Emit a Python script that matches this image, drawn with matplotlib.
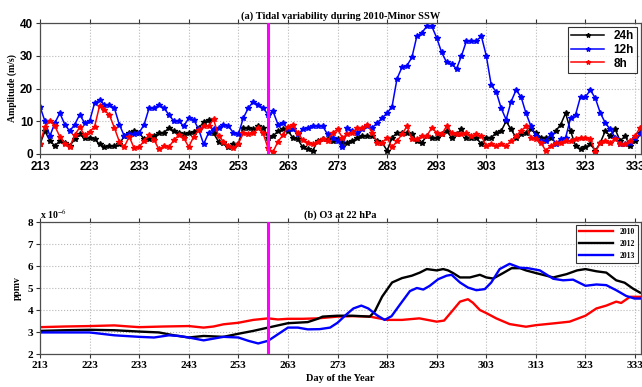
import numpy as np
import matplotlib
matplotlib.use('Agg')
import matplotlib.pyplot as plt

SANS = 'Liberation Sans'
SERIF = 'Liberation Serif'
plt.rcParams['mathtext.fontset'] = 'stix'

# daily tidal amplitudes (m/s), day 213..334
days = np.arange(213, 335)
amp24 = [3, 7, 4, 2.5, 4, 3.5, 2.5, 4.5, 6, 5,
         5, 4.5, 3, 2, 2.5, 2.5, 3, 5.5, 6.5, 7,
         6.5, 4.5, 4.5, 5.5, 6.5, 6.5, 8, 7, 6.5, 6,
         6.3, 6.8, 7.8, 9.8, 10.3, 6.3, 3.8, 3.5, 2.2, 3,
         3.2, 8, 8, 7.5, 8.5, 8, 5, 5.5, 7, 7.5,
         7, 5, 4.5, 2, 1.5, 1, 4, 4.5, 4.5, 4,
         4.5, 3.5, 3.5, 4, 5, 5.5, 5.5, 5.5, 4, 3.5,
         1, 5, 6.5, 6.5, 6.5, 6, 4, 3.5, 5.5, 5,
         5, 6, 7, 5, 6, 7.5, 5, 5, 5, 3,
         5, 5, 6.5, 7, 10, 7.5, 5, 6, 6.5, 7.5,
         6.5, 5, 5, 5, 7, 9, 12.5, 7, 2.5, 1.5,
         2, 3, 1, 3.5, 7, 5.5, 7.5, 4, 5.5, 2.5,
         4, 6.5]
amp12 = [14.5, 10, 5.5, 9.5, 12.5, 9, 7, 9, 12, 9.5,
         10, 15.5, 16.5, 15, 15, 14, 9, 5.5, 6, 6,
         6.5, 9, 14, 14, 15, 14, 12, 10, 10, 8.5,
         11, 10.5, 7.5, 3, 6.5, 7.5, 8, 9, 8.5, 6.5,
         6, 11, 14, 16, 15, 14, 12, 13, 9, 9.5,
         7.5, 7.5, 6, 7.5, 8, 8.5, 8.5, 8.5, 6, 5,
         4, 2, 8, 7, 6.5, 7.5, 8.5, 8, 9.5, 11,
         12.5, 14.5, 23, 26.5, 27, 29.5, 36, 37, 39, 39,
         35.5, 31, 28, 27.5, 26, 30, 34.5, 34.5, 34.5, 36,
         30, 21, 19, 14, 10.5, 16, 19.5, 17.5, 12.5, 8.5,
         5.5, 4, 4, 6, 3, 4.5, 5, 11, 12, 17.5,
         17.5, 19.5, 17, 12.5, 9.5, 7.5, 5, 3, 3, 3.5,
         5, 6]
amp8 = [3.2, 8.3, 10.2, 8.5, 5.3, 3.2, 2.2, 5.8, 8.1, 5.8,
        6.8, 8.3, 14.6, 13.4, 11.9, 8, 3.8, 2.2, 5.3, 1.7,
        2.2, 4, 5.8, 4.3, 1.4, 2.4, 2.2, 4.2, 5.8, 4.8,
        2.2, 5.3, 7.3, 8.5, 8.5, 10.6, 5.5, 3.8, 2.4, 1.7,
        3.2, 6.3, 6.1, 6.3, 7.8, 6.3, 1.7, 0.7, 3.8, 5.8,
        8.3, 8.8, 6.3, 4.3, 3.5, 3, 3.8, 4.5, 4, 6.5,
        7.5, 5, 6, 6.5, 8, 8, 9, 6.5, 3.5, 3.5,
        5, 2, 4, 6, 8.5, 4.5, 4.5, 5.5, 5.5, 8,
        6.5, 6, 8.5, 6.5, 6, 6, 6.5, 5.5, 6, 5.5,
        2.5, 3, 2.5, 3, 2.5, 4, 5.5, 7, 8.5, 5,
        4.5, 3.5, 1, 2.5, 3.5, 3.5, 4, 4, 4.5, 5,
        5, 4.5, 0.5, 3.5, 4, 3.5, 4.5, 3, 3, 4,
        5.5, 8]

# O3 mixing ratio at 22 hPa (x 1e-6 ppmv)
d2010 = [213, 218, 223, 228, 231, 233, 238, 243, 246, 248, 250, 253, 256, 259,
         261, 263, 266, 269, 273, 276, 279.5, 283, 286, 289.5, 293, 294.5, 296.3,
         297.7, 299.3, 300.3, 301.7, 303, 305, 307.7, 311, 313, 316.5, 319.8, 323,
         325.2, 327.2, 329.2, 330.2, 332, 334]
o3_2010 = [3.22, 3.25, 3.27, 3.3, 3.25, 3.22, 3.25, 3.27, 3.2, 3.25, 3.35, 3.42,
           3.55, 3.62, 3.57, 3.6, 3.6, 3.62, 3.7, 3.72, 3.7, 3.55, 3.55, 3.62, 3.47,
           3.52, 4.0, 4.38, 4.49, 4.33, 4.0, 3.86, 3.62, 3.36, 3.24, 3.31, 3.39, 3.47,
           3.74, 4.07, 4.2, 4.38, 4.32, 4.6, 4.6]
d2012 = [213, 218, 223, 228, 233, 237, 240, 243, 246, 250, 253, 256, 259, 263,
         267, 269, 270, 273, 276, 279.5, 280.5, 282, 284, 286, 288, 289.6, 291, 293,
         294.3, 295.3, 296.3, 297.7, 299.7, 301.7, 303, 304.4, 306.4, 308.1, 309.8,
         311, 313, 316.5, 319.2, 321.3, 323, 325.2, 327.2, 329.2, 330.9, 332.6, 334]
o3_2012 = [3.05, 3.08, 3.1, 3.08, 3.02, 2.98, 2.85, 2.75, 2.82, 2.78, 2.92, 3.05,
           3.2, 3.4, 3.45, 3.6, 3.7, 3.74, 3.74, 3.7, 3.93, 4.61, 5.25, 5.45, 5.56,
           5.7, 5.86, 5.8, 5.86, 5.8, 5.68, 5.48, 5.48, 5.6, 5.48, 5.43, 5.68, 5.9,
           5.9, 5.8, 5.68, 5.48, 5.63, 5.8, 5.86, 5.76, 5.7, 5.35, 5.24, 4.97, 4.79]
d2013 = [213, 218, 223, 228, 233, 236, 239, 241, 243, 246, 248, 250, 253, 255,
         257, 259, 261, 263, 265, 267, 269.4, 271.5, 273, 274.8, 276.2, 277.8, 279.2,
         280.9, 282.5, 283.9, 285.6, 287.6, 289, 290.3, 291.6, 293.3, 295, 296,
         297.7, 299.3, 301, 302.7, 304, 305.7, 307.7, 309.8, 311.4, 313.8, 316.5,
         318.5, 320.5, 323, 325.2, 327.2, 329.2, 331.2, 332.9, 334]
o3_2013 = [2.98, 2.98, 2.98, 2.85, 2.78, 2.75, 2.85, 2.82, 2.75, 2.62, 2.7, 2.78,
           2.75, 2.6, 2.48, 2.6, 2.9, 3.2, 3.2, 3.12, 3.13, 3.2, 3.42, 3.8, 4.07, 4.2,
           4.07, 3.77, 3.55, 3.72, 4.25, 4.86, 5.0, 4.93, 5.1, 5.4, 5.56, 5.6, 5.25,
           5.02, 4.9, 4.95, 5.25, 5.86, 6.1, 5.92, 5.9, 5.8, 5.42, 5.35, 5.38, 5.1,
           5.16, 5.13, 4.9, 4.64, 4.52, 4.52]

ssw_day = 259
xticks = np.arange(213, 334, 10)
xlim = (213, 334.2)


def style_axes(ax, tickfont):
    ax.set_xlim(*xlim)
    ax.set_xticks(xticks)
    ax.grid(True, linestyle=':', color='0.72', linewidth=0.8)
    ax.tick_params(direction='out', length=3, width=0.8, top=True, right=True,
                   colors='0.2', labelcolor='black', pad=2)
    for s in ax.spines.values():
        s.set_color('0.3')
        s.set_linewidth(0.9)
    for lab in ax.get_xticklabels() + ax.get_yticklabels():
        lab.set_fontproperties(tickfont)


fig = plt.figure(figsize=(6.42, 3.87), dpi=100)

# (a) tidal amplitudes
ax1 = fig.add_axes([40/642, 1-154/387, 601/642, 131/387])
ax1.plot(days, amp24, color='black', lw=1.1, marker='*', ms=4, label='24h')
ax1.plot(days, amp12, color='blue', lw=1.1, marker='*', ms=4, label='12h')
ax1.plot(days, amp8, color='red', lw=1.1, marker='*', ms=4, label='8h')
ax1.axvline(ssw_day, color='magenta', lw=2.2, zorder=5)
ax1.set_ylim(0, 40)
ax1.set_yticks([0, 10, 20, 30, 40])
style_axes(ax1, matplotlib.font_manager.FontProperties(family=SANS, weight='bold', size=8.5))
ax1.set_ylabel('Amplitude (m/s)', family=SERIF, weight='bold', fontsize=7, labelpad=2)
ax1.set_title('(a) Tidal variability during 2010-Minor SSW', family=SERIF,
              weight='bold', fontsize=7.5, pad=3)
leg = ax1.legend(loc='upper right', prop={'family': SANS, 'weight': 'bold', 'size': 8.5},
                 fancybox=False, edgecolor='black', borderaxespad=0.3,
                 handlelength=2.8, labelspacing=0.15, borderpad=0.3, markerscale=0.8)
leg.get_frame().set_linewidth(0.8)

# (b) ozone at 22 hPa
ax2 = fig.add_axes([40/642, 1-354/387, 601/642, 132/387])
ax2.plot(d2010, o3_2010, color='red', lw=1.7, label='2010')
ax2.plot(d2012, o3_2012, color='black', lw=1.7, label='2012')
ax2.plot(d2013, o3_2013, color='blue', lw=1.7, label='2013')
ax2.axvline(ssw_day, color='magenta', lw=2.2, zorder=5)
ax2.set_ylim(2, 8)
ax2.set_yticks(range(2, 9))
style_axes(ax2, matplotlib.font_manager.FontProperties(family=SERIF, weight='bold', size=8))
ax2.set_ylabel('ppmv', family=SERIF, weight='bold', fontsize=7, labelpad=4)
ax2.set_xlabel('Day of the Year', family=SERIF, weight='bold', fontsize=7.5, labelpad=3)
ax2.set_title('(b) O3 at 22 hPa', family=SERIF, weight='bold', fontsize=7.5, pad=3)
ax2.text(0.0, 1.01, 'x 10$^{-6}$', transform=ax2.transAxes, ha='left', va='bottom',
         family=SERIF, weight='bold', fontsize=7)
leg2 = ax2.legend(loc='upper right', prop={'family': SERIF, 'weight': 'bold', 'size': 5.5},
                  fancybox=False, edgecolor='black', borderaxespad=0.4,
                  handlelength=4.5, labelspacing=0.5, borderpad=0.4)
leg2.get_frame().set_linewidth(0.8)

fig.savefig('out.png', dpi=100)
